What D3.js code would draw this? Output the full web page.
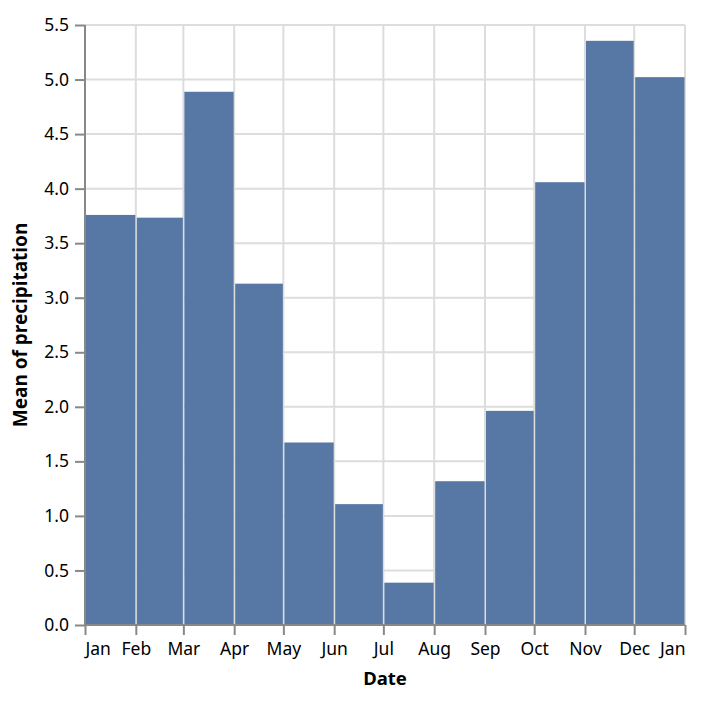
<!DOCTYPE html>
<html><head><meta charset="utf-8">
<script src="https://cdn.jsdelivr.net/npm/d3@7"></script>
<style>body{margin:0;background:#fff}</style>
</head><body>
<svg id="chart" width="712" height="706"></svg>
<script>
const months = ["Jan","Feb","Mar","Apr","May","Jun","Jul","Aug","Sep","Oct","Nov","Dec"];
const precipitation = [3.759, 3.734, 4.888, 3.129, 1.673, 1.108, 0.388, 1.318, 1.963, 4.059, 5.355, 5.022];
const yTicks = [0,0.5,1,1.5,2,2.5,3,3.5,4,4.5,5,5.5];
const xTitle = "Date";
const yTitle = "Mean of precipitation";

const FONT = "'Noto Sans', sans-serif";
const m = {left:85, top:25, w:600, h:600};
const svg = d3.select("#chart");
const g = svg.append("g").attr("transform",`translate(${m.left},${m.top})`);

const data = months.map((mo,i)=>({start:new Date(2012,i,1), end:new Date(2012,i+1,1), v:precipitation[i]}));
const x = d3.scaleTime().domain([new Date(2012,0,1), new Date(2013,0,1)]).range([0,m.w]);
const y = d3.scaleLinear().domain([0,5.5]).range([m.h,0]);
const xTickDates = d3.range(13).map(i=>new Date(2012,i,1));

// grid
g.append("g").selectAll("line").data(yTicks).join("line")
  .attr("x1",0).attr("x2",m.w).attr("y1",d=>y(d)).attr("y2",d=>y(d))
  .attr("stroke","#ddd").attr("stroke-width",2);
g.append("g").selectAll("line").data(xTickDates).join("line")
  .attr("x1",d=>x(d)).attr("x2",d=>x(d)).attr("y1",0).attr("y2",m.h)
  .attr("stroke","#ddd").attr("stroke-width",2);

// bars
g.append("g").selectAll("rect").data(data).join("rect")
  .attr("x",d=>x(d.start)+1).attr("width",d=>x(d.end)-x(d.start)-1.5)
  .attr("y",d=>y(d.v)).attr("height",d=>m.h-y(d.v))
  .attr("fill","#5778a4");

// axes
const xAxis = d3.axisBottom(x).tickValues(xTickDates).tickFormat(d3.timeFormat("%b")).tickSize(10).tickPadding(7.5);
const yAxis = d3.axisLeft(y).tickValues(yTicks).tickFormat(d3.format(".1f")).tickSize(10).tickPadding(6);
const gx = g.append("g").attr("transform",`translate(0,${m.h})`).call(xAxis);
const gy = g.append("g").call(yAxis);
[gx,gy].forEach(a=>{
  a.selectAll(".domain").attr("stroke","#888").attr("stroke-width",2);
  a.selectAll(".tick line").attr("stroke","#888").attr("stroke-width",2);
  a.selectAll("text").attr("font-family",FONT).attr("font-size",17.5).attr("fill","#000");
});
gx.select(".domain").attr("d",`M0,0H${m.w}`);
gy.select(".domain").attr("d",`M0,0V${m.h}`);
// flush first/last x labels
const xt = gx.selectAll(".tick text");
const n = xt.size();
xt.each(function(d,i){
  if(i===0) d3.select(this).attr("text-anchor","start");
  if(i===n-1) d3.select(this).attr("text-anchor","end");
});

svg.append("text").attr("x",m.left+m.w/2).attr("y",684.5).attr("text-anchor","middle")
  .attr("font-family",FONT).attr("font-weight","bold").attr("font-size",18.5).text(xTitle);
svg.append("text").attr("transform",`translate(27,${m.top+m.h/2}) rotate(-90)`).attr("text-anchor","middle")
  .attr("font-family",FONT).attr("font-weight","bold").attr("font-size",19).text(yTitle);
</script>
</body></html>
